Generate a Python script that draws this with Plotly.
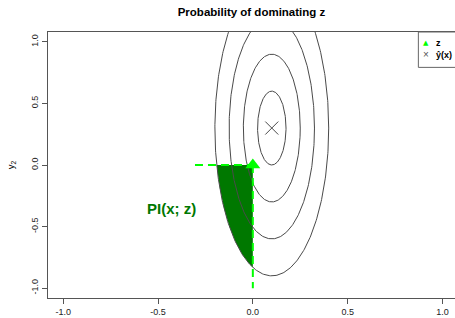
import numpy as np
import plotly.graph_objects as go

# ---- data ----
title = "Probability of dominating z"
mean_xy = [0.1, 0.3]          # predicted mean  y^(x)
sd_xy = [0.075, 0.3]          # predictive std devs (axis-aligned)
contour_levels = [1, 2, 3, 4] # contour radii in sd units
z_point = [0.0, 0.0]          # target point z
h_dash_x = [-0.305, 0.0]      # horizontal dashed guide
v_dash_y = [0.0, -1.0]        # vertical dashed guide
pi_label = "PI(x; z)"
pi_label_pos = [-0.427, -0.35]
x_ticks = [-1.0, -0.5, 0.0, 0.5, 1.0]
y_ticks = [-1.0, -0.5, 0.0, 0.5, 1.0]
x_ticktext = ["-1.0", "-0.5", "0.0", "0.5", "1.0"]
y_ticktext = ["-1.0", "-0.5", "0.0", "0.5", "1.0"]

FONT = "Liberation Sans, Arial, sans-serif"
LINE = "#4a4a4a"
DARKGREEN = "#007800"
BRIGHT = "#00ff00"

mx, my = mean_xy
sx, sy = sd_xy

fig = go.Figure()

# ---- shaded dominating region inside outermost contour ----
k = contour_levels[-1]
a, b = k * sx, k * sy
x_left = mx - a * np.sqrt(1 - ((z_point[1] - my) / b) ** 2)
y_bot = my - b * np.sqrt(1 - ((z_point[0] - mx) / a) ** 2)
t1 = np.arctan2((z_point[1] - my) / b, (x_left - mx) / a)
t2 = np.arctan2((y_bot - my) / b, (z_point[0] - mx) / a)
tt = np.linspace(t1, t2, 120)
px = np.concatenate([[z_point[0], x_left], mx + a * np.cos(tt), [z_point[0]]])
py = np.concatenate([[z_point[1], z_point[1]], my + b * np.sin(tt), [y_bot]])
fig.add_trace(go.Scatter(x=px, y=py, fill="toself", fillcolor=DARKGREEN,
                         mode="lines", line=dict(width=0, color=DARKGREEN),
                         showlegend=False, hoverinfo="skip"))

# ---- contour ellipses ----
th = np.linspace(0, 2 * np.pi, 400)
for lv in contour_levels:
    fig.add_trace(go.Scatter(x=mx + lv * sx * np.cos(th), y=my + lv * sy * np.sin(th),
                             mode="lines", line=dict(color=LINE, width=1),
                             showlegend=False, hoverinfo="skip"))

# ---- dashed guides ----
fig.add_trace(go.Scatter(x=h_dash_x, y=[z_point[1], z_point[1]], mode="lines",
                         line=dict(color=BRIGHT, width=2, dash="8px,5px"),
                         showlegend=False, hoverinfo="skip"))
fig.add_trace(go.Scatter(x=[z_point[0], z_point[0]], y=v_dash_y, mode="lines",
                         line=dict(color=BRIGHT, width=2, dash="8px,5px"),
                         showlegend=False, hoverinfo="skip"))

# ---- z point and predicted mean ----
fig.add_trace(go.Scatter(x=[z_point[0]], y=[z_point[1]], mode="markers",
                         marker=dict(symbol="triangle-up", size=13, color=BRIGHT),
                         showlegend=False))
fig.add_trace(go.Scatter(x=[mx], y=[my], mode="markers",
                         marker=dict(symbol="x-thin", size=13,
                                     line=dict(color=LINE, width=1)),
                         showlegend=False))

# ---- annotation ----
fig.add_annotation(x=pi_label_pos[0], y=pi_label_pos[1], text="<b>" + pi_label + "</b>",
                   showarrow=False, font=dict(family=FONT, size=15, color=DARKGREEN),
                   xanchor="center", yanchor="middle")

# ---- manual legend (top-right, box partly beyond the figure) ----
fig.add_shape(type="rect", xref="paper", yref="paper", x0=0.910, x1=1.03,
              y0=0.867, y1=1.0, line=dict(color="#666666", width=1), fillcolor="white",
              layer="above")
fig.add_annotation(xref="paper", yref="paper", x=0.928, y=0.958, text="▲",
                   showarrow=False, font=dict(family="DejaVu Sans", size=7, color=BRIGHT),
                   xanchor="center", yanchor="middle")
fig.add_annotation(xref="paper", yref="paper", x=0.9495, y=0.958, text="<b>z</b>",
                   showarrow=False, font=dict(family=FONT, size=9, color="black"),
                   xanchor="left", yanchor="middle")
fig.add_annotation(xref="paper", yref="paper", x=0.928, y=0.914, text="×",
                   showarrow=False, font=dict(family=FONT, size=10, color="#555555"),
                   xanchor="center", yanchor="middle")
fig.add_annotation(xref="paper", yref="paper", x=0.9495, y=0.914, text="<b>ŷ(x)</b>",
                   showarrow=False, font=dict(family=FONT, size=9, color="black"),
                   xanchor="left", yanchor="middle")

fig.update_layout(
    width=455, height=318,
    margin=dict(l=48, r=0, t=32, b=20, autoexpand=False),
    plot_bgcolor="white", paper_bgcolor="white",
    title=dict(text="<b>" + title + "</b>", x=0.5, xref="paper", y=0.963, yanchor="middle",
               font=dict(family=FONT, size=11.5, color="black")),
    font=dict(family=FONT, size=9, color="black"),
    showlegend=False,
)
fig.update_xaxes(range=[-1.08, 1.066], tickvals=x_ticks, ticktext=x_ticktext,
                 showgrid=False, zeroline=False, showline=True, mirror=True,
                 linecolor="#555555", linewidth=1, ticks="outside", ticklen=5,
                 tickcolor="#555555", tickfont=dict(size=9, color="#222222"))
fig.update_yaxes(range=[-1.08, 1.08], tickvals=y_ticks, ticktext=y_ticktext,
                 showgrid=False, zeroline=False, showline=True, mirror=False,
                 linecolor="#555555", linewidth=1, ticks="outside", ticklen=5,
                 tickcolor="#555555", tickangle=-90, tickfont=dict(size=9, color="#222222"),
                 title=dict(text="y<sub>2</sub>", font=dict(size=9.5), standoff=14))

fig.write_html("out.html", config={"displayModeBar": False},
               post_script="document.body.style.margin='0';document.body.style.overflow='hidden';")
